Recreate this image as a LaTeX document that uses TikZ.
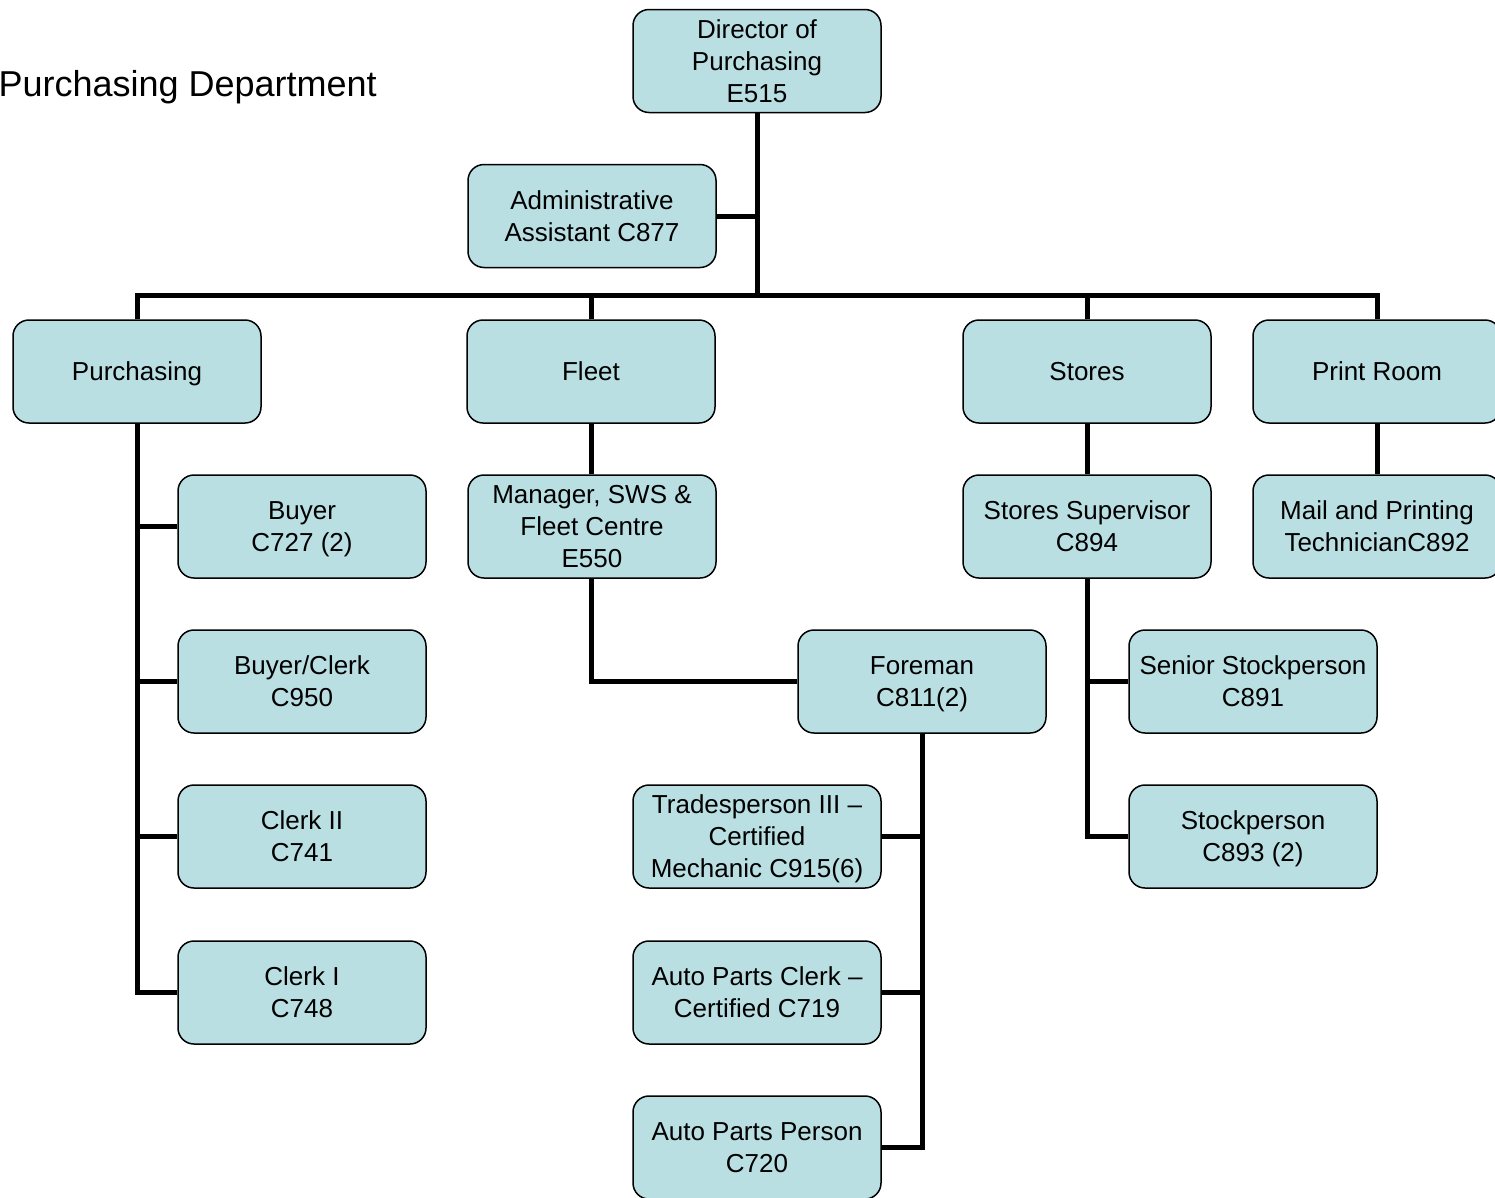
\documentclass[tikz,border=0pt]{standalone}
\usepackage{fontspec}
\setmainfont{Liberation Sans}
\definecolor{boxfill}{HTML}{B9DFE3}
\newcommand\bx[1]{\raisebox{-3pt}[\height][\depth]{\begin{tabular}{@{}c@{}}#1\end{tabular}}}
\begin{document}
\begin{tikzpicture}[x=1pt,y=-1pt,
  box/.style={draw=black, line width=1.5pt, fill=boxfill, rounded corners=16pt,
    minimum width=248pt, minimum height=103pt, inner sep=0pt,
    font=\fontsize{26}{32}\selectfont},
  conn/.style={line width=5pt, draw=black}]
\useasboundingbox (0,0) rectangle (1495,1197);
\node[anchor=base west, font=\fontsize{36}{40}\selectfont] (title) at (-5,96) {Purchasing Department};
% top
\node[box] (dir) at (757,61) {\bx{Director of\\Purchasing\\E515}};
\node[box] (adm) at (592,216) {\bx{Administrative\\Assistant C877}};
\coordinate (busY) at (0,295);
% level 2
\node[box] (pur) at (137,371.5) {\bx{Purchasing}};
\node[box] (fle) at (591,371.5) {\bx{Fleet}};
\node[box] (sto) at (1087,371.5) {\bx{Stores}};
\node[box] (prt) at (1377,371.5) {\bx{Print Room}};
% purchasing children
\node[box] (buy) at (302,526.5) {\bx{Buyer\\C727 (2)}};
\node[box] (bcl) at (302,681.5) {\bx{Buyer/Clerk\\C950}};
\node[box] (clt) at (302,836.5) {\bx{Clerk II\\C741}};
\node[box] (clo) at (302,992.5) {\bx{Clerk I\\C748}};
% fleet
\node[box] (mgr) at (592,526.5) {\bx{Manager, SWS \&\\Fleet Centre\\E550}};
\node[box] (fore) at (922,681.5) {\bx{Foreman\\C811(2)}};
\node[box] (trd) at (757,836.5) {\bx{Tradesperson III –\\Certified\\Mechanic C915(6)}};
\node[box] (apc) at (757,992.5) {\bx{Auto Parts Clerk –\\Certified C719}};
\node[box] (app) at (757,1147.5) {\bx{Auto Parts Person\\C720}};
% stores
\node[box] (sup) at (1087,526.5) {\bx{Stores Supervisor\\C894}};
\node[box] (ssp) at (1253,681.5) {\bx{Senior Stockperson\\C891}};
\node[box] (stp) at (1253,836.5) {\bx{Stockperson\\C893 (2)}};
% print room
\node[box] (mail) at (1377,526.5) {\bx{Mail and Printing\\TechnicianC892}};
% connectors
\draw[conn] (dir.south) -- (dir.south |- busY);
\draw[conn] (adm.east) -- (adm.east -| dir.south);
\draw[conn] (pur.north) -- (pur.north |- busY) -- (prt.north |- busY) -- (prt.north);
\draw[conn] (fle.north) -- (fle.north |- busY);
\draw[conn] (sto.north) -- (sto.north |- busY);
\draw[conn] (pur.south) |- (clo.west);
\draw[conn] (buy.west) -- (buy.west -| pur.south);
\draw[conn] (bcl.west) -- (bcl.west -| pur.south);
\draw[conn] (clt.west) -- (clt.west -| pur.south);
\draw[conn] (fle.south) -- (fle.south |- mgr.north);
\draw[conn] (mgr.south -| fle.south) |- (fore.west);
\draw[conn] (fore.south) |- (app.east);
\draw[conn] (trd.east) -- (trd.east -| fore.south);
\draw[conn] (apc.east) -- (apc.east -| fore.south);
\draw[conn] (sto.south) -- (sup.north);
\draw[conn] (sup.south) |- (stp.west);
\draw[conn] (ssp.west) -- (ssp.west -| sup.south);
\draw[conn] (prt.south) -- (mail.north);
\end{tikzpicture}
\end{document}
